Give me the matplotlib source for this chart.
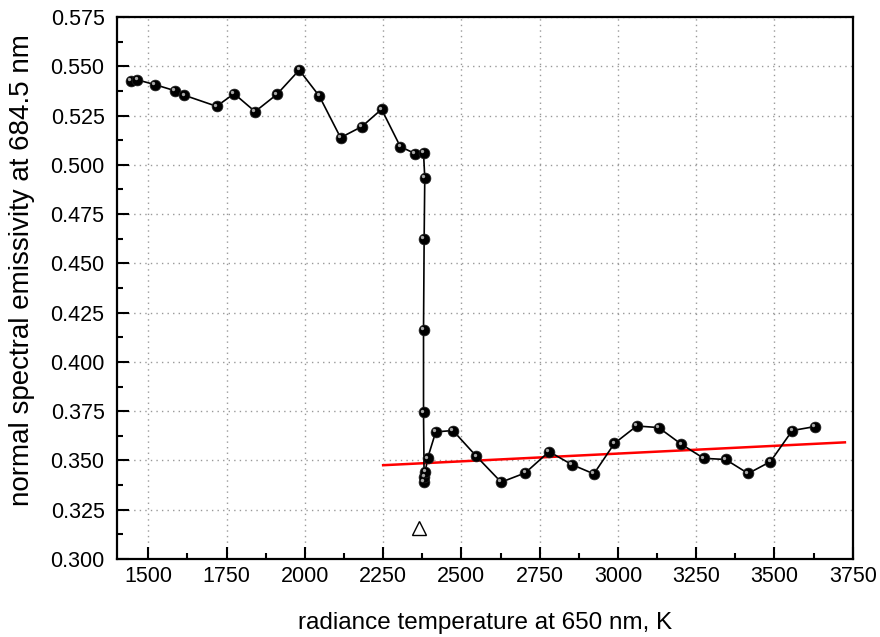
import matplotlib
matplotlib.use("Agg")
import matplotlib.pyplot as plt
import matplotlib.transforms as mtransforms
from matplotlib.ticker import MultipleLocator, FormatStrFormatter

plt.rcParams['font.family'] = ['Liberation Sans', 'DejaVu Sans']

# measured data (radiance temperature K, normal spectral emissivity)
temperature = [1444, 1465, 1521, 1585, 1615, 1718, 1774, 1841, 1911, 1982,
               2046, 2114, 2182, 2245, 2305, 2352, 2379, 2383, 2381, 2379,
               2379, 2381, 2382, 2385, 2392, 2418, 2473, 2548, 2627, 2704,
               2780, 2853, 2923, 2989, 3060, 3130, 3203, 3274, 3344, 3416,
               3487, 3557, 3629]
emissivity = [0.5425, 0.5431, 0.5407, 0.5376, 0.5353, 0.5297, 0.5361, 0.5270,
              0.5358, 0.5481, 0.5349, 0.5138, 0.5194, 0.5282, 0.5092, 0.5057,
              0.5061, 0.4934, 0.4625, 0.4162, 0.3744, 0.3390, 0.3417, 0.3444,
              0.3511, 0.3645, 0.3652, 0.3521, 0.3390, 0.3437, 0.3545, 0.3479,
              0.3432, 0.3587, 0.3675, 0.3667, 0.3582, 0.3511, 0.3505, 0.3434,
              0.3494, 0.3652, 0.3672]

# linear fit of liquid phase
fit_temperature = [2250, 3725]
fit_emissivity = [0.3476, 0.3592]

# melting point marker
melt_temperature = [2364]
melt_emissivity = [0.3158]

fig = plt.figure(figsize=(8.8, 6.37), dpi=100)
ax = fig.add_axes([0.133, 0.1224, 0.836, 0.8509])

ax.plot(temperature, emissivity, color='black', lw=1.2, zorder=3)
ax.plot(temperature, emissivity, ls='none', marker='o', ms=7.8,
        mfc='black', mec='#222222', mew=0.5, zorder=4)
hl = mtransforms.offset_copy(ax.transData, fig=fig, x=-1.2, y=1.2, units='points')
ax.plot(temperature, emissivity, ls='none', marker='o', ms=2.4,
        mfc='#bbbbbb', mec='none', alpha=0.9, transform=hl, zorder=5)

ax.plot(fit_temperature, fit_emissivity, color='#ff0000', lw=1.8, zorder=2)
ax.plot(melt_temperature, melt_emissivity, ls='none', marker='^', ms=10,
        mfc='white', mec='black', mew=1.0, zorder=4)

ax.set_xlim(1400, 3750)
ax.set_ylim(0.300, 0.575)
ax.xaxis.set_major_locator(MultipleLocator(250))
ax.xaxis.set_minor_locator(MultipleLocator(125))
ax.yaxis.set_major_locator(MultipleLocator(0.025))
ax.yaxis.set_minor_locator(MultipleLocator(0.0125))
ax.yaxis.set_major_formatter(FormatStrFormatter('%.3f'))

ax.tick_params(which='major', direction='in', length=8.5, width=1.5,
               labelsize=15.5, top=False, right=False)
ax.tick_params(axis='x', which='major', pad=5)
ax.tick_params(axis='y', which='major', pad=9)
ax.tick_params(which='minor', direction='in', length=4.5, width=1.5,
               top=False, right=False)
for s in ax.spines.values():
    s.set_linewidth(1.6)

ax.grid(True, which='major', color='#999999', ls=(0, (1, 3)), lw=1.0)
ax.set_axisbelow(True)

ax.set_xlabel('radiance temperature at 650 nm, K', fontsize=17.5, labelpad=18)
ax.set_ylabel('normal spectral emissivity at 684.5 nm', fontsize=20, labelpad=4)
ax.yaxis.set_label_coords(-0.111, 0.533)

fig.savefig('out.png', dpi=100)
